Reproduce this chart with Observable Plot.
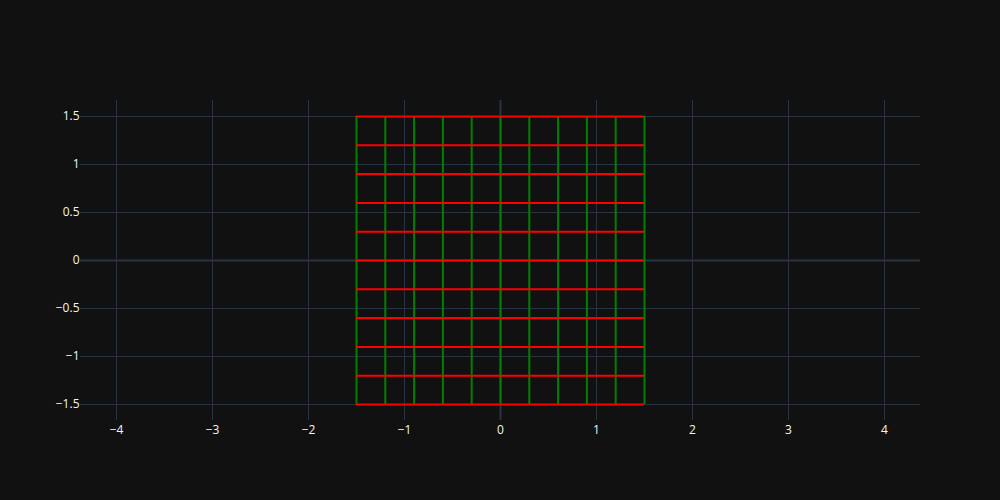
<!DOCTYPE html>
<html>
<head>
<meta charset="utf-8">
<script src="https://cdn.jsdelivr.net/npm/d3@7"></script>
<script src="https://cdn.jsdelivr.net/npm/@observablehq/plot@0.6"></script>
<style>
  html, body { margin: 0; padding: 0; background: #111111; }
  #chart { width: 1000px; height: 500px; }
</style>
</head>
<body>
<div id="chart"></div>
<script>
// Grid line positions
const verticalX = [-1.5, -1.2, -0.9, -0.6, -0.3, 0, 0.3, 0.6, 0.9, 1.2, 1.5];
const horizontalY = [-1.5, -1.2, -0.9, -0.6, -0.3, 0, 0.3, 0.6, 0.9, 1.2, 1.5];
const lineExtent = [-1.5, 1.5];
const xTicks = [-4, -3, -2, -1, 0, 1, 2, 3, 4];
const yTicks = [-1.5, -1, -0.5, 0, 0.5, 1, 1.5];
const xDomain = [-4.375, 4.375];
const yDomain = [-1.6667, 1.6667];

const vLines = verticalX.map(x => ({x, y1: lineExtent[0], y2: lineExtent[1]}));
const hLines = horizontalY.map(y => ({y, x1: lineExtent[0], x2: lineExtent[1]}));

const fmt = d => String(d).replace("-", "\u2212");

const chart = Plot.plot({
  width: 1000,
  height: 500,
  marginTop: 100,
  marginBottom: 80,
  marginLeft: 80,
  marginRight: 80,
  style: {background: "#111111", color: "#f2f5fa", fontFamily: "'Open Sans', sans-serif", fontSize: "12px"},
  x: {domain: xDomain, ticks: xTicks, tickFormat: fmt, tickSize: 0, label: null},
  y: {domain: yDomain, ticks: yTicks, tickFormat: fmt, tickSize: 0, label: null},
  marks: [
    Plot.ruleX(xTicks.filter(d => d !== 0), {stroke: "#283442", strokeWidth: 1}),
    Plot.ruleY(yTicks.filter(d => d !== 0), {stroke: "#283442", strokeWidth: 1}),
    Plot.ruleX([0], {stroke: "#283442", strokeWidth: 2}),
    Plot.ruleY([0], {stroke: "#283442", strokeWidth: 2}),
    Plot.ruleX(vLines, {x: "x", y1: "y1", y2: "y2", stroke: "green", strokeWidth: 2}),
    Plot.ruleY(hLines, {y: "y", x1: "x1", x2: "x2", stroke: "red", strokeWidth: 2}),
    Plot.axisX({ticks: xTicks, tickFormat: fmt, tickSize: 0, tickPadding: 5, label: null, fill: "#f2f5fa"}),
    Plot.axisY({ticks: yTicks, tickFormat: fmt, tickSize: 0, tickPadding: 1, label: null, fill: "#f2f5fa"})
  ]
});
document.getElementById("chart").appendChild(chart);
</script>
</body>
</html>
